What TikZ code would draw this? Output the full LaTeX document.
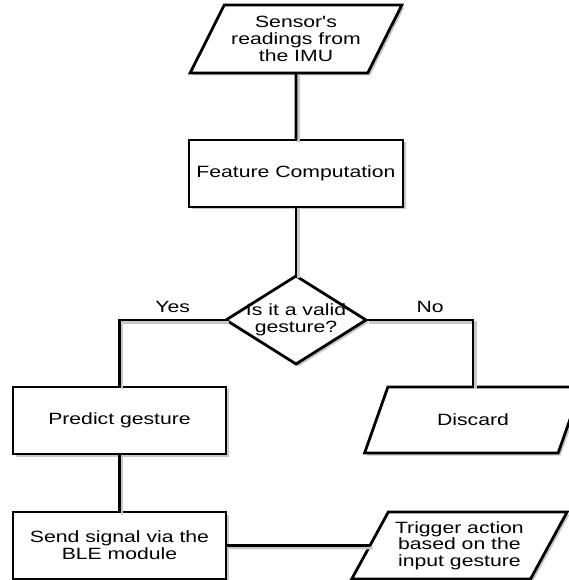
\documentclass[tikz,border=0pt]{standalone}
\usepackage{fontspec}
\newfontfamily\flowfont[FakeStretch=1.3]{Liberation Sans}
\usetikzlibrary{positioning,shapes.geometric,shadows}

\tikzset{
  flowtext/.style={font={\flowfont\fontsize{16.3}{16.7}\selectfont}, text=black, align=center},
  flowshadow/.style={drop shadow={shadow xshift=2.5pt, shadow yshift=-2.5pt, fill=black!22, opacity=1}},
  flowbox/.style={flowtext, draw, line width=2.8pt, fill=white, flowshadow, minimum width=213pt, minimum height=67pt, inner sep=2pt, outer sep=0pt},
  flowio/.style={flowbox, trapezium, trapezium left angle=57, trapezium right angle=123, trapezium stretches=true},
  flowdecide/.style={flowtext, draw, line width=2.8pt, fill=white, flowshadow, diamond, aspect=1.59, inner sep=-5pt, outer sep=0pt, minimum width=140pt, minimum height=88pt},
  flowline/.style={line width=2.8pt, draw=black},
  flowlineshadow/.style={line width=2.8pt, draw=black!22},
}

\begin{document}
\begin{tikzpicture}[x=1pt, y=1pt]
            \useasboundingbox (0,0) rectangle (569,580);
            \node[flowio, minimum width=212pt, minimum height=68pt] (sensor) at (296,541) {Sensor's\\readings from\\the IMU};
            \node[flowbox, minimum width=214pt, below=67pt of sensor] (feature) {Feature Computation};
            \node[flowdecide, below=69pt of feature] (valid) {Is it a valid\\gesture?};

            \node[flowbox, below=23pt of valid, xshift=-176.5pt] (predict) {Predict gesture};
            \node[flowio, minimum width=218pt, minimum height=66pt, below=23pt of valid, xshift=177pt] (discard) {Discard};
            \node[flowbox, below=58pt of predict] (send) {Send signal via the\\BLE module};
            \node[flowio, minimum width=216pt, right=144pt of send] (trigger) {Trigger action\\based on the\\input gesture};

            % shadows of the connectors
            \begin{scope}[transform canvas={xshift=2.5pt, yshift=-2.5pt}]
              \draw[flowlineshadow] (sensor) -- (feature);
              \draw[flowlineshadow] (feature) -- (valid);
              \draw[flowlineshadow] (valid.west) -| (predict.north);
              \draw[flowlineshadow] (valid.east) -| (discard.north);
              \draw[flowlineshadow] (predict) -- (send);
              \draw[flowlineshadow] (send.east) -- (trigger.left side);
            \end{scope}

            \draw[flowline] (sensor) -- (feature);
            \draw[flowline] (feature) -- (valid);
            \draw[flowline] (valid.west) -| node[flowtext, pos=0.25, above=3pt] {Yes} (predict.north);
            \draw[flowline] (valid.east) -| node[flowtext, pos=0.3, above=3pt] {No} (discard.north);
            \draw[flowline] (predict) -- (send);
            \draw[flowline] (send.east) -- (trigger.left side);
\end{tikzpicture}
\end{document}
